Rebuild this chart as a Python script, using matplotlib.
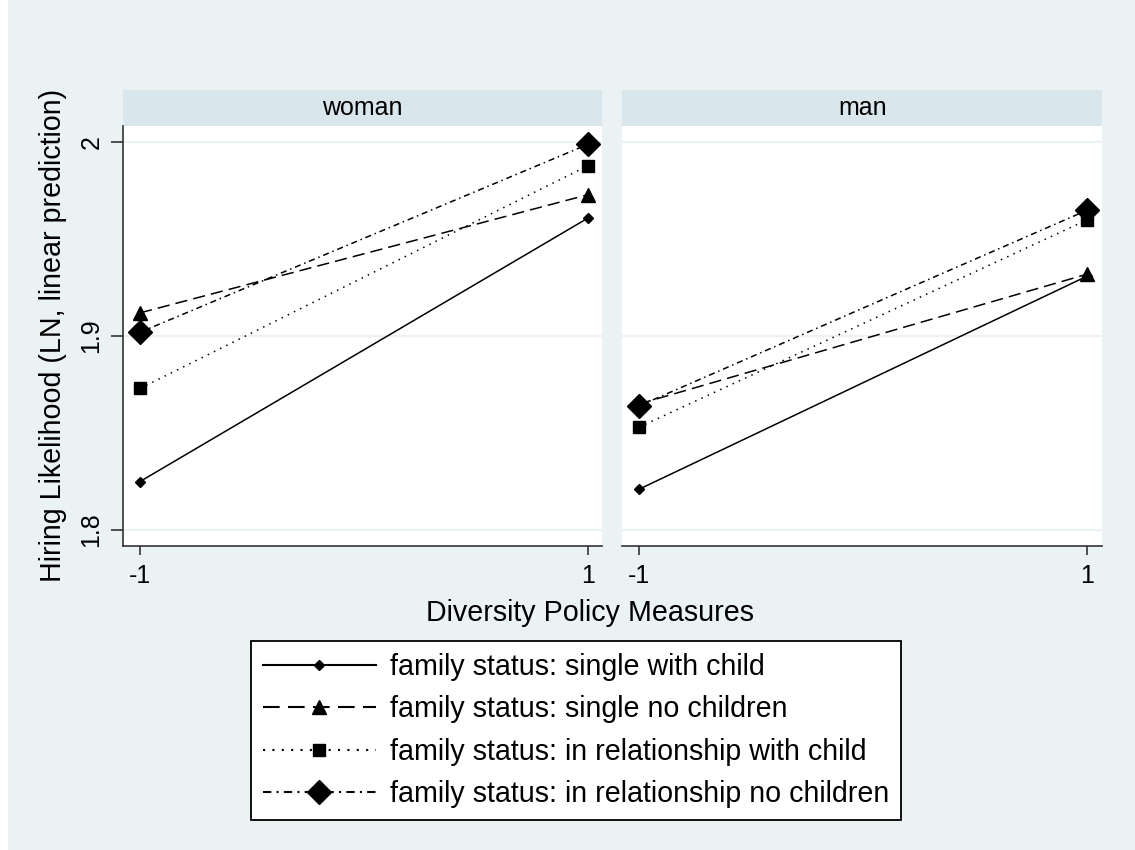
import matplotlib
matplotlib.use('Agg')
import matplotlib.pyplot as plt
from matplotlib.patches import Rectangle
from matplotlib.lines import Line2D

# data
x_vals = [-1, 1]
panels = ['woman', 'man']
series_labels = ['family status: single with child',
                 'family status: single no children',
                 'family status: in relationship with child',
                 'family status: in relationship no children']
woman_single_child = [1.825, 1.961]
woman_single_none = [1.912, 1.973]
woman_rel_child = [1.873, 1.988]
woman_rel_none = [1.902, 1.999]
man_single_child = [1.821, 1.931]
man_single_none = [1.865, 1.932]
man_rel_child = [1.853, 1.960]
man_rel_none = [1.864, 1.965]
y_ticks = [1.8, 1.9, 2.0]
y_ticklabels = ['1.8', '1.9', '2']

panel_data = {'woman': [woman_single_child, woman_single_none, woman_rel_child, woman_rel_none],
              'man': [man_single_child, man_single_none, man_rel_child, man_rel_none]}

# styles: (marker, markersize, dashes)
styles = [('D', 5.5, None),
          ('^', 10, (8, 4)),
          ('s', 8.5, (1, 3.5)),
          ('D', 12, (4, 2.5, 1, 2.5))]

BG = '#eaf2f3'
STRIP = '#d9e6eb'

plt.rcParams['font.family'] = ['Liberation Sans', 'DejaVu Sans']

fig = plt.figure(figsize=(11.35, 8.5), dpi=100)
fig.patch.set_facecolor('white')
fig.patches.append(Rectangle((8 / 1135, 0), 1, 1, transform=fig.transFigure,
                             facecolor=BG, edgecolor='none', zorder=-10))

W, H = 1135.0, 850.0
ax_bottom = 1 - 545.7 / H
ax_height = (545.7 - 126) / H
axes_pos = [(123.3, 601.7), (622.3, 1102.3)]
xlims = [(-1.0745, 1.06), (-1.0745, 1.067)]

def make_line(ax, xs, ys, st):
    marker, ms, dashes = st
    ln, = ax.plot(xs, ys, color='black', lw=1.1, marker=marker, markersize=ms,
                  markerfacecolor='black', markeredgecolor='black', clip_on=False)
    if dashes is not None:
        ln.set_dashes(dashes)
    return ln

for i, name in enumerate(panels):
    x0, x1 = axes_pos[i]
    ax = fig.add_axes([x0 / W, ax_bottom, (x1 - x0) / W, ax_height])
    ax.set_facecolor('white')
    for j, ys in enumerate(panel_data[name]):
        make_line(ax, x_vals, ys, styles[j])
    ax.set_xlim(*xlims[i])
    ax.set_ylim(1.7919, 2.0084)
    ax.set_yticks(y_ticks)
    ax.set_xticks(x_vals)
    ax.set_xticklabels(['-1', '1'], fontsize=18)
    ax.grid(axis='y', color=BG, lw=1.6)
    ax.set_axisbelow(True)
    for s in ['top', 'right']:
        ax.spines[s].set_visible(False)
    ax.spines['bottom'].set_color('#333333')
    ax.spines['bottom'].set_linewidth(1.2)
    ax.tick_params(axis='x', length=6.3, width=1.2, color='#333333', pad=7)
    if i == 0:
        ax.spines['left'].set_color('#333333')
        ax.spines['left'].set_linewidth(1.2)
        ax.set_yticklabels(y_ticklabels, fontsize=18, rotation=90, va='center')
        ax.tick_params(axis='y', length=8.3, width=1.2, color='#333333', pad=6)
        ax.set_ylabel('Hiring Likelihood (LN, linear prediction)', fontsize=20.6, labelpad=9)
    else:
        ax.spines['left'].set_visible(False)
        ax.tick_params(axis='y', length=0, labelleft=False)
    strip_h = 36 / (545.7 - 126)
    ax.add_patch(Rectangle((0, 1), 1, strip_h, transform=ax.transAxes,
                           facecolor=STRIP, edgecolor='none', clip_on=False))
    ax.text(0.5, 1 + strip_h / 2, name, transform=ax.transAxes,
            ha='center', va='center', fontsize=18)

fig.text(590 / W, 1 - 613 / H, 'Diversity Policy Measures',
         ha='center', va='center', fontsize=20.6)

handles = []
for st in styles:
    marker, ms, dashes = st
    h = Line2D([], [], color='black', lw=1.5, marker=marker, markersize=ms,
               markerfacecolor='black', markeredgecolor='black')
    if dashes is not None:
        h.set_dashes(dashes)
    handles.append(h)

leg = fig.legend(handles, series_labels, loc='upper center',
                 bbox_to_anchor=(576 / W, 1 - 641 / H), fontsize=20.6,
                 frameon=True, fancybox=False, edgecolor='black',
                 handlelength=3.95, handletextpad=0.5, borderpad=0.42,
                 labelspacing=0.5, borderaxespad=0, numpoints=1)
leg.get_frame().set_linewidth(1.3)
leg.get_frame().set_facecolor('white')
leg.get_frame().set_alpha(1)

fig.savefig('out.png', dpi=100, facecolor=fig.get_facecolor())
